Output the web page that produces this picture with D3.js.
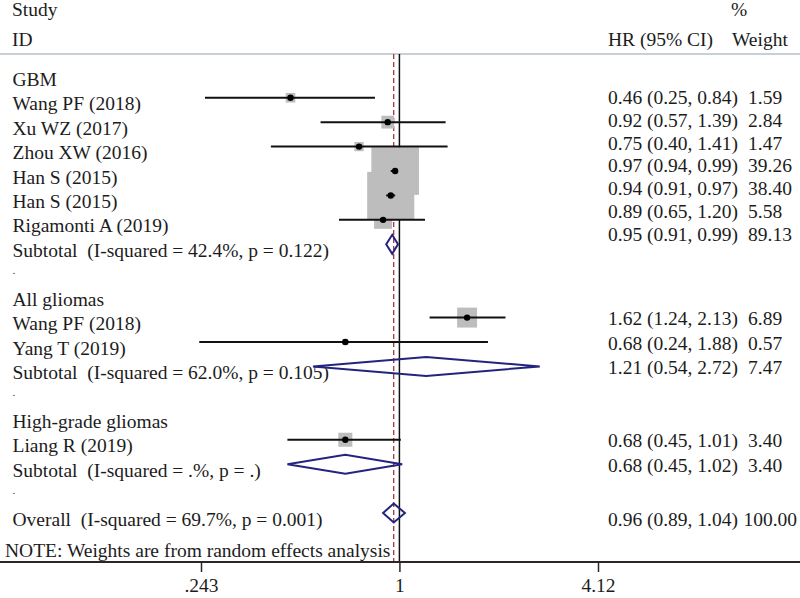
<!DOCTYPE html>
<html>
<head>
<meta charset="utf-8">
<script src="https://cdn.jsdelivr.net/npm/d3@7"></script>
<style>
  body { margin: 0; background: #fff; }
  text { font-family: "Liberation Serif", "Times New Roman", serif; fill: #1c1c1c; }
</style>
</head>
<body>
<div class="svg-container"></div>
<script>
// rows of the forest plot, top to bottom
const labels = [
  'GBM', 'Wang PF (2018)', 'Xu WZ (2017)', 'Zhou XW (2016)', 'Han S (2015)', 'Han S (2015)',
  'Rigamonti A (2019)', 'Subtotal  (I-squared = 42.4%, p = 0.122)', '.',
  'All gliomas', 'Wang PF (2018)', 'Yang T (2019)', 'Subtotal  (I-squared = 62.0%, p = 0.105)', '.',
  'High-grade gliomas', 'Liang R (2019)', 'Subtotal  (I-squared = .%, p = .)', '.',
  'Overall  (I-squared = 69.7%, p = 0.001)'
];
const kinds = [
  'group', 'study', 'study', 'study', 'study', 'study', 'study', 'subtotal', 'blank',
  'group', 'study', 'study', 'subtotal', 'blank',
  'group', 'study', 'subtotal', 'blank',
  'overall'
];
const hr = [null, 0.46, 0.92, 0.75, 0.97, 0.94, 0.89, 0.95, null, null, 1.62, 0.68, 1.21, null, null, 0.68, 0.68, null, 0.96];
const lo = [null, 0.25, 0.57, 0.40, 0.94, 0.91, 0.65, 0.91, null, null, 1.24, 0.24, 0.54, null, null, 0.45, 0.45, null, 0.89];
const hi = [null, 0.84, 1.39, 1.41, 0.99, 0.97, 1.20, 0.99, null, null, 2.13, 1.88, 2.72, null, null, 1.01, 1.02, null, 1.04];
const weights = [null, 1.59, 2.84, 1.47, 39.26, 38.40, 5.58, 89.13, null, null, 6.89, 0.57, 7.47, null, null, 3.40, 3.40, null, 100.00];
const overallHR = 0.96;
const tickValues = [0.243, 1, 4.12];
const tickLabels = ['.243', '1', '4.12'];
const note = 'NOTE: Weights are from random effects analysis';

// dimensions
const width = 800;
const height = 598;
const axisY = 562;
const topRule = 54;
const fontSize = '19.5px';

const svg = d3.select('.svg-container')
  .append('svg')
  .attr('width', width)
  .attr('height', height);

const x = d3.scaleLog().domain([0.243, 4.12]).range([201, 598]);
const y = d3.scaleLinear().domain([0, labels.length - 1]).range([73.3, 513]);
const f2 = d3.format('.2f');
const rows = labels.map((label, i) => ({ i, label, kind: kinds[i], hr: hr[i], lo: lo[i], hi: hi[i], w: weights[i] }));
const effects = rows.filter(d => d.hr !== null);

// the right hand column sits a bit higher in the first block
const rightBase = d => {
  if (d.i >= 1 && d.i <= 7) return 104 + (d.i - 1) * 22.8;
  if (d.kind === 'overall') return y(d.i) + 13;
  return y(d.i) + 7.5;
};
const leftBase = d => d.kind === 'blank' ? y(d.i) + 5 : y(d.i) + 12.5;

// headers
const header = svg.append('g').style('font-size', fontSize);
header.append('text').attr('x', 12).attr('y', 16).text('Study');
header.append('text').attr('x', 12).attr('y', 46).text('ID');
header.append('text').attr('x', 608).attr('y', 46).text('HR (95% CI)');
header.append('text').attr('x', 731).attr('y', 16).text('%');
header.append('text').attr('x', 732).attr('y', 46).text('Weight');

svg.append('line')
  .attr('x1', 0).attr('x2', width)
  .attr('y1', topRule).attr('y2', topRule)
  .attr('stroke', '#b4c0c8').attr('stroke-width', 1.5);

// left labels (the "." spacer rows are tiny)
svg.append('g')
  .selectAll('text')
  .data(rows)
  .enter()
  .append('text')
  .attr('x', 12.5)
  .attr('y', leftBase)
  .style('font-size', d => d.kind === 'blank' ? '11px' : fontSize)
  .style('white-space', 'pre')
  .text(d => d.label);

svg.append('text')
  .attr('x', 5).attr('y', 557)
  .style('font-size', fontSize)
  .style('white-space', 'pre')
  .text(note);

// estimate and weight columns
const right = svg.append('g').style('font-size', fontSize);
right.selectAll('text.ci')
  .data(effects)
  .enter()
  .append('text')
  .attr('class', 'ci')
  .attr('x', 608)
  .attr('y', rightBase)
  .text(d => `${f2(d.hr)} (${f2(d.lo)}, ${f2(d.hi)})`);

right.selectAll('text.wt')
  .data(effects)
  .enter()
  .append('text')
  .attr('class', 'wt')
  .attr('x', 748)
  .attr('y', rightBase)
  .text(d => f2(d.w))
  .each(function () {
    const len = this.getComputedTextLength();
    if (748 + len > 797) d3.select(this).attr('x', 797 - len);
  });

// reference lines
svg.append('line')
  .attr('x1', x(1)).attr('x2', x(1))
  .attr('y1', topRule).attr('y2', axisY)
  .attr('stroke', '#111').attr('stroke-width', 1.5);

svg.append('line')
  .attr('x1', x(overallHR)).attr('x2', x(overallHR))
  .attr('y1', topRule).attr('y2', axisY)
  .attr('stroke', '#a8343a').attr('stroke-width', 1.3)
  .attr('stroke-dasharray', '5,3');

// study boxes, sized by weight
const studies = effects.filter(d => d.kind === 'study');
svg.append('g')
  .selectAll('rect')
  .data(studies)
  .enter()
  .append('rect')
  .attr('x', d => x(d.hr) - 3.8 * Math.sqrt(d.w))
  .attr('y', d => y(d.i) - 3.8 * Math.sqrt(d.w))
  .attr('width', d => 7.6 * Math.sqrt(d.w))
  .attr('height', d => 7.6 * Math.sqrt(d.w))
  .attr('fill', '#bdbdbd');

svg.append('g')
  .selectAll('line')
  .data(studies)
  .enter()
  .append('line')
  .attr('x1', d => x(d.lo)).attr('x2', d => x(d.hi))
  .attr('y1', d => y(d.i)).attr('y2', d => y(d.i))
  .attr('stroke', '#111').attr('stroke-width', 2);

svg.append('g')
  .selectAll('circle')
  .data(studies)
  .enter()
  .append('circle')
  .attr('cx', d => x(d.hr))
  .attr('cy', d => y(d.i))
  .attr('r', 3.2)
  .attr('fill', '#000');

// pooled diamonds
svg.append('g')
  .selectAll('path')
  .data(effects.filter(d => d.kind === 'subtotal' || d.kind === 'overall'))
  .enter()
  .append('path')
  .attr('d', d => {
    const cy = y(d.i);
    return `M${x(d.lo)},${cy}L${x(d.hr)},${cy - 9.5}L${x(d.hi)},${cy}L${x(d.hr)},${cy + 9.5}Z`;
  })
  .attr('fill', 'none')
  .attr('stroke', '#24247e')
  .attr('stroke-width', 2);

// x axis
svg.append('line')
  .attr('x1', 0).attr('x2', width)
  .attr('y1', axisY).attr('y2', axisY)
  .attr('stroke', '#2e2424').attr('stroke-width', 2);

const axis = svg.append('g')
  .attr('transform', `translate(0,${axisY})`)
  .call(d3.axisBottom(x)
    .tickValues(tickValues)
    .tickFormat((d, i) => tickLabels[i])
    .tickSize(10)
    .tickPadding(6));
axis.select('.domain').remove();
axis.selectAll('.tick line').attr('stroke', '#2e2424').attr('stroke-width', 1.5);
axis.selectAll('.tick text')
  .style('font-family', '"Liberation Serif", "Times New Roman", serif')
  .style('font-size', fontSize)
  .attr('fill', '#1c1c1c');
</script>
</body>
</html>
